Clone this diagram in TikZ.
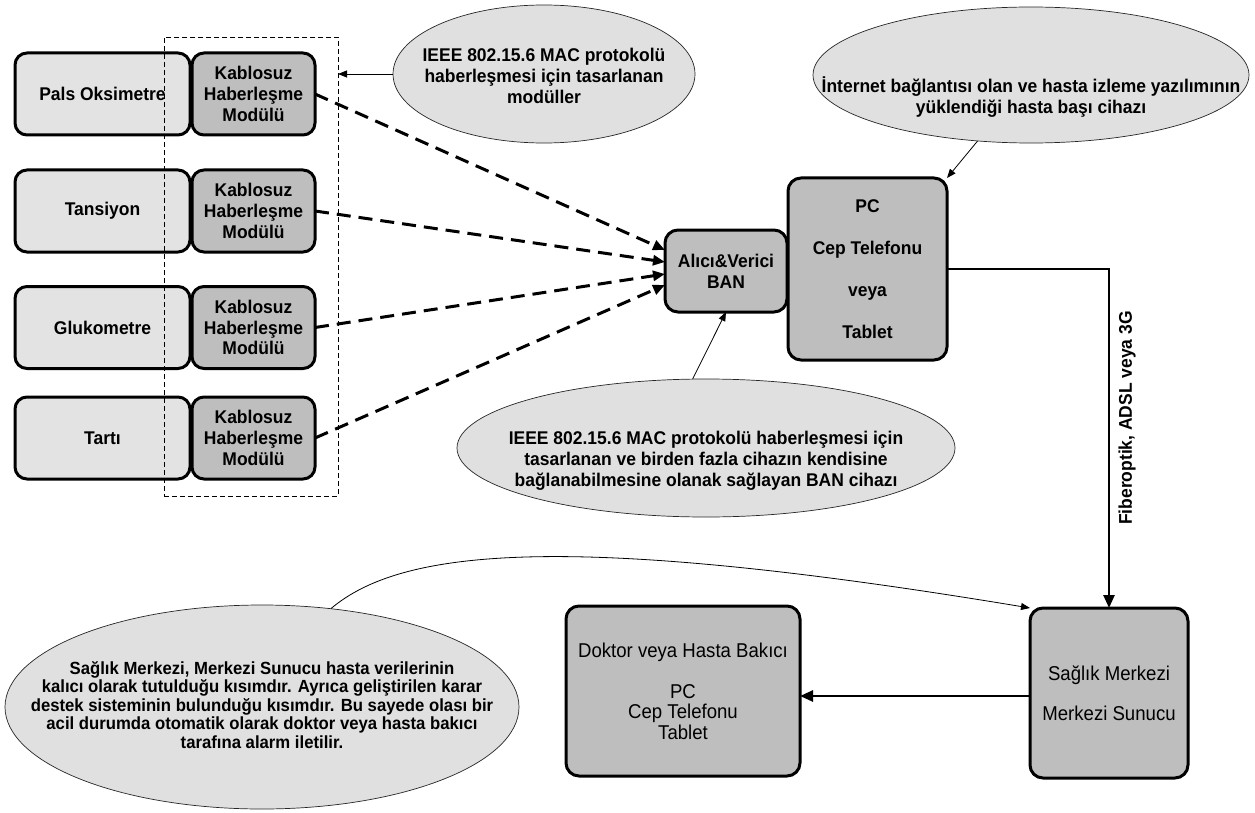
\documentclass[tikz,border=0pt]{standalone}
\usepackage{fontspec}
\setmainfont[FakeStretch=0.95]{Liberation Sans}
\newfontfamily\narrowfont[FakeStretch=0.93]{Liberation Sans}
\usetikzlibrary{arrows.meta,calc,shapes.geometric}
\definecolor{lightbox}{HTML}{E3E3E3}
\definecolor{darkbox}{HTML}{BEBEBE}
\definecolor{ellfill}{HTML}{E0E0E0}
\begin{document}
\begin{tikzpicture}[x=1pt,y=-1pt,
  every node/.style={inner sep=0pt,outer sep=0pt},
  boldtxt/.style={font=\bfseries\fontsize{18.4}{20.8}\selectfont,align=center},
  sensor/.style={draw=black,line width=3pt,rounded corners=12pt,fill=lightbox,
    minimum width=175pt,minimum height=82pt,boldtxt},
  module/.style={sensor,fill=darkbox,minimum width=123pt},
  devbox/.style={draw=black,line width=3pt,rounded corners=13pt,fill=darkbox,boldtxt},
  groupbox/.style={draw=black,line width=0.9pt,dash pattern=on 5pt off 3pt,
    minimum width=174pt,minimum height=459pt},
  ell/.style={ellipse,draw=black!85,line width=0.7pt,fill=ellfill},
  dasharrow/.style={line width=3pt,dash pattern=on 14pt off 8pt,
    -{Triangle[length=12pt,width=10pt]}},
  thinarrow/.style={line width=0.8pt,-{Triangle[length=9pt,width=7pt]}},
  thickarrow/.style={line width=2.5pt,-{Triangle[length=13pt,width=11pt]}}
]
\useasboundingbox (0,0) rectangle (1255,813);

% sensors and modules
\node[sensor] (s1) at (102.5,94) {Pals Oksimetre};
\node[module] (m1) at (253.5,94) {Kablosuz\\Haberleşme\\Modülü};
\node[sensor] (s2) at (102.5,211) {Tansiyon};
\node[module] (m2) at (253.5,211) {Kablosuz\\Haberleşme\\Modülü};
\node[sensor] (s3) at (102.5,327.5) {Glukometre};
\node[module] (m3) at (253.5,327.5) {Kablosuz\\Haberleşme\\Modülü};
\node[sensor] (s4) at (102.5,438) {Tartı};
\node[module] (m4) at (253.5,438) {Kablosuz\\Haberleşme\\Modülü};
\node[groupbox] (grp) at (251,266.5) {};

% BAN and PC
\node[devbox,minimum width=122pt,minimum height=82pt] (ban) at (726,271) {Alıcı\&Verici\\BAN};
\node[devbox,minimum width=159pt,minimum height=182pt,
  font=\bfseries\fontsize{18.4}{42}\selectfont] (pc) at (867.5,269) {PC\\Cep Telefonu\\veya\\Tablet};

% server and doctor
\node[devbox,minimum width=158pt,minimum height=170pt,
  font=\narrowfont\fontsize{20}{40}\selectfont] (sag) at (1109,693) {Sağlık Merkezi\\Merkezi Sunucu};
\node[devbox,minimum width=234pt,minimum height=170pt,
  font=\narrowfont\fontsize{20}{20.5}\selectfont] (doc) at (683,691)
  {Doktor veya Hasta Bakıcı\\[20.5pt]PC\\Cep Telefonu\\Tablet};

% ellipses
\node[ell,minimum width=302pt,minimum height=138pt] (e1) at (544,74) {};
\node[boldtxt] (e1t) at (544,76) {IEEE 802.15.6 MAC protokolü\\haberleşmesi için tasarlanan\\modüller};
\node[ell,minimum width=436pt,minimum height=136pt] (e2) at (1031,75) {};
\node[boldtxt] (e2t) at (1031,97) {İnternet bağlantısı olan ve hasta izleme yazılımının\\yüklendiği hasta başı cihazı};
\node[ell,minimum width=498pt,minimum height=138pt] (e3) at (706,448) {};
\node[boldtxt] (e3t) at (706,461) {IEEE 802.15.6 MAC protokolü haberleşmesi için\\tasarlanan ve birden fazla cihazın kendisine\\bağlanabilmesine olanak sağlayan BAN cihazı};
\node[ell,minimum width=514pt,minimum height=204pt] (e4) at (262,707) {};
\node[font=\bfseries\fontsize{17.6}{18.5}\selectfont,align=center] (e4t) at (262,705)
  {Sağlık Merkezi, Merkezi Sunucu hasta verilerinin\\kalıcı olarak tutulduğu kısımdır. Ayrıca geliştirilen karar\\destek sisteminin bulunduğu kısımdır. Bu sayede olası bir\\acil durumda otomatik olarak doktor veya hasta bakıcı\\tarafına alarm iletilir.};

% dashed wireless links
\coordinate (t1) at ($(ban.west)+(0,-21)$);
\coordinate (t2) at ($(ban.west)+(0,-9)$);
\coordinate (t3) at ($(ban.west)+(0,3)$);
\coordinate (t4) at ($(ban.west)+(0,14)$);
\draw[dasharrow] (m1.east) -- (t1);
\draw[dasharrow] (m2.east) -- (t2);
\draw[dasharrow] (m3.east) -- (t3);
\draw[dasharrow] (m4.east) -- (t4);

% annotations
\draw[thinarrow] (e1.west) -- (e1.west -| grp.east);
\draw[thinarrow] (e2.231) -- (pc.north east);
\draw[thinarrow] (e3.101) -- (ban.south);
\draw[thinarrow] (e4.55) .. controls (400,550) and (560,530) .. (sag.north west);

% network links
\draw[thickarrow] (pc.east) -| (sag.north);
\node[boldtxt,rotate=90] (fib) at (1127,418) {Fiberoptik, ADSL veya 3G};
\coordinate (sw) at ([yshift=-3pt]sag.west);
\draw[thickarrow] (sw) -- (sw -| doc.east);
\end{tikzpicture}
\end{document}
